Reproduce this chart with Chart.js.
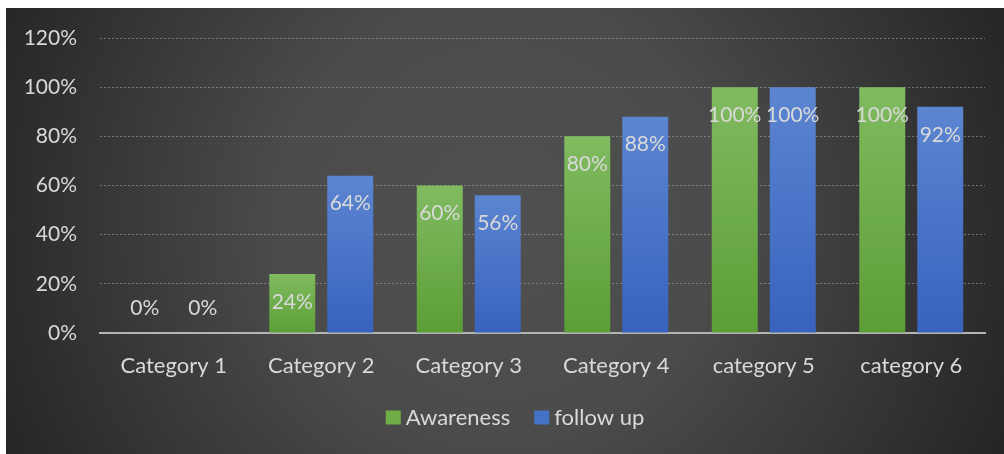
<!DOCTYPE html>
<html>
<head>
<meta charset="utf-8">
<script src="https://cdn.jsdelivr.net/npm/chart.js@4/dist/chart.umd.min.js"></script>
<style>
    html, body { margin: 0; padding: 0; background: #fff; }
    #wrap { position: absolute; left: 6px; top: 8px; width: 998px; height: 446px; }
</style>
</head>
<body>
<div id="wrap"><canvas id="chart_1"></canvas></div>
<script>
const categories = ['Category 1', 'Category 2', 'Category 3', 'Category 4', 'category 5', 'category 6'];
const awareness = [0, 0.24, 0.60, 0.80, 1.00, 1.00];
const follow_up = [0, 0.64, 0.56, 0.88, 1.00, 0.92];
const series_names = ['Awareness', 'follow up'];
const legend_colors = ['#70ad47', '#4472c4'];

window.onload = () => {
    const FONT = 'Lato, "Open Sans", sans-serif';
    const TEXT = '#d9d9d9';
    const pct = v => Math.round(v * 100) + '%';

    //gradient per bar, light at top
    const bar_fill = (top_col, bot_col, flat) => ctx => {
        const chart = ctx.chart, y = chart.scales && chart.scales.y;
        if (ctx.type !== 'data' || !chart.chartArea || !y) return flat;
        const top = y.getPixelForValue(ctx.raw), bottom = y.getPixelForValue(0);
        if (bottom - top < 1) return flat;
        const g = chart.ctx.createLinearGradient(0, top, 0, bottom);
        g.addColorStop(0, top_col);
        g.addColorStop(1, bot_col);
        return g;
    }

    const background = {
        id: 'background',
        beforeDraw(chart) {
            const c = chart.ctx, w = chart.width, h = chart.height;
            const g = c.createRadialGradient(w * 0.495, 212, 0, w * 0.495, 212, 550);
            g.addColorStop(0, '#505050');
            g.addColorStop(0.4, '#4b4b4b');
            g.addColorStop(1, '#252525');
            c.save();
            c.fillStyle = g;
            c.fillRect(0, 0, w, h);
            c.restore();
        }
    }

    const value_labels = {
        id: 'value_labels',
        afterDatasetsDraw(chart) {
            const c = chart.ctx;
            c.save();
            c.font = '21px ' + FONT;
            c.fillStyle = TEXT;
            c.textAlign = 'center';
            c.textBaseline = 'middle';
            chart.data.datasets.forEach((ds, i) => {
                chart.getDatasetMeta(i).data.forEach((bar, j) => {
                    const v = ds.data[j];
                    c.fillText(pct(v), bar.x, v > 0 ? bar.y + 28 : bar.y - 25);
                });
            });
            c.restore();
        }
    }

    //legend drawn by hand so box/text gaps match
    const bottom_legend = {
        id: 'bottom_legend',
        afterDraw(chart) {
            const c = chart.ctx;
            c.save();
            c.font = '22px ' + FONT;
            c.textBaseline = 'middle';
            const widths = series_names.map(n => c.measureText(n).width);
            const total = widths.reduce((a, w) => a + 20 + w, 0) + 24 * (series_names.length - 1);
            let x = 509 - total / 2;
            const y = 409.5;
            series_names.forEach((n, i) => {
                c.fillStyle = legend_colors[i];
                c.fillRect(x, y - 7, 15, 14);
                c.fillStyle = TEXT;
                c.fillText(n, x + 20, y);
                x += 20 + widths[i] + 24;
            });
            c.restore();
        }
    }

    const ctx = document.getElementById('chart_1').getContext('2d');
    new Chart(ctx, {
        type: 'bar',
        data: {
            labels: categories,
            datasets: [
                {
                    label: series_names[0],
                    data: awareness,
                    backgroundColor: bar_fill('#80bb60', '#5c9e36', legend_colors[0]),
                    categoryPercentage: 0.786,
                    barPercentage: 0.793
                },
                {
                    label: series_names[1],
                    data: follow_up,
                    backgroundColor: bar_fill('#5c85d1', '#3763be', legend_colors[1]),
                    categoryPercentage: 0.786,
                    barPercentage: 0.793
                }
            ]
        },
        options: {
            responsive: true,
            maintainAspectRatio: false,
            animation: false,
            layout: { padding: { top: 30, right: 19, left: 0, bottom: 70 } },
            plugins: {
                tooltip: { enabled: false },
                legend: { display: false }
            },
            scales: {
                x: {
                    grid: { display: false },
                    border: { color: '#b4b4b4', width: 2 },
                    ticks: { color: TEXT, font: { family: FONT, size: 22 }, padding: 12, maxRotation: 0 },
                    afterFit: s => { s.height = 51; s.paddingLeft = 0; s.paddingRight = 0; }
                },
                y: {
                    min: 0,
                    max: 1.2,
                    ticks: { stepSize: 0.2, color: TEXT, font: { family: FONT, size: 21 }, padding: 23, callback: v => pct(v) },
                    grid: {
                        drawTicks: false,
                        color: c => c.tick && c.tick.value === 0 ? 'rgba(0,0,0,0)' : 'rgba(200,200,200,0.45)',
                        lineWidth: 1
                    },
                    border: { display: false, dash: [2, 2] },
                    afterFit: s => { s.width = 94; s.paddingTop = 0; s.paddingBottom = 0; }
                }
            }
        },
        plugins: [background, value_labels, bottom_legend]
    });
}
</script>
</body>
</html>
